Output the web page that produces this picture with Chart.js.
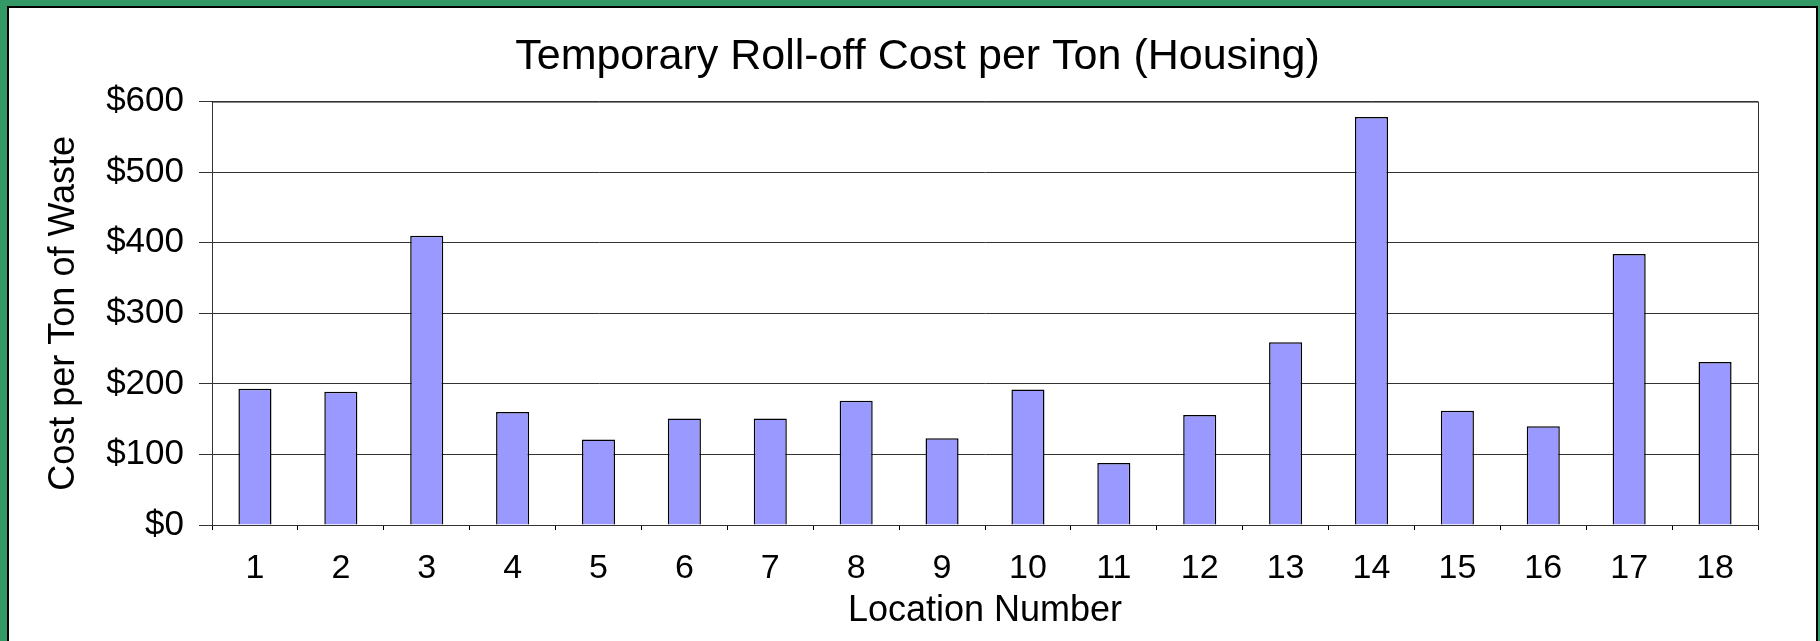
<!DOCTYPE html>
<html>
<head>
<meta charset="utf-8">
<title>Temporary Roll-off Cost per Ton (Housing)</title>
<script src="https://cdn.jsdelivr.net/npm/chart.js@4.4.1/dist/chart.umd.min.js"></script>
<style>
  html, body { margin: 0; padding: 0; }
  body { width: 1820px; height: 641px; background: #339966; overflow: hidden; position: relative; }
  .frame {
    position: absolute; left: 7px; top: 6px;
    width: 1807px; height: 660px;
    border: 2px solid #000; background: #fff;
  }
  .frame canvas { position: absolute; left: 0; top: 0; }
</style>
</head>
<body>
<div class="frame">
  <canvas id="costChart" width="1807" height="633"></canvas>
</div>
<script>
const locations = ['1', '2', '3', '4', '5', '6', '7', '8', '9', '10', '11', '12', '13', '14', '15', '16', '17', '18'];
const costPerTon = [193, 189, 410, 160, 121, 151, 151, 176, 123, 192, 88, 156, 259, 578, 162, 140, 384, 231];
const yTicks = [0, 100, 200, 300, 400, 500, 600];

const FONT = "'Liberation Sans', Arial, Helvetica, sans-serif";

// outline round the plot area (top and right edges)
const plotFrame = {
  id: 'plotFrame',
  afterDraw(chart) {
    const { ctx, chartArea } = chart;
    ctx.save();
    ctx.strokeStyle = '#333';
    ctx.lineWidth = 1;
    ctx.strokeRect(chartArea.left + 0.5, chartArea.top + 0.5, chartArea.right - chartArea.left, chartArea.bottom - chartArea.top);
    ctx.restore();
  }
};

document.addEventListener('DOMContentLoaded', () => {
  Chart.defaults.font.family = FONT;
  Chart.defaults.color = '#000';

  const ctx = document.getElementById('costChart').getContext('2d');

  new Chart(ctx, {
    type: 'bar',
    data: {
      labels: locations,
      datasets: [{
        label: 'Cost per Ton',
        data: costPerTon,
        backgroundColor: '#9999FF',
        borderColor: '#000',
        borderWidth: 1.5,
        categoryPercentage: 1,
        barPercentage: 0.385
      }]
    },
    plugins: [plotFrame],
    options: {
      responsive: false,
      animation: false,
      layout: { padding: { left: 10, right: 0, top: 0, bottom: 0 } },
      plugins: {
        legend: { display: false },
        tooltip: { enabled: false },
        title: {
          display: true,
          text: 'Temporary Roll-off Cost per Ton (Housing)',
          color: '#000',
          font: { size: 43, weight: 'normal' },
          padding: { top: 23, bottom: 19 }
        }
      },
      scales: {
        x: {
          afterFit: (scale) => { scale.height = 116; },
          grid: {
            offset: true,
            drawOnChartArea: false,
            tickLength: 5,
            color: '#000'
          },
          border: { color: '#000', width: 1 },
          ticks: { color: '#000', font: { size: 34 }, padding: 18, maxRotation: 0 },
          title: {
            display: true,
            text: 'Location Number',
            color: '#000',
            font: { size: 36 },
            padding: { top: 0, bottom: 8 }
          }
        },
        y: {
          min: 0,
          max: 600,
          afterFit: (scale) => { scale.width = 193; },
          afterBuildTicks: (scale) => { scale.ticks = yTicks.map((v) => ({ value: v })); },
          grid: { color: '#333', tickLength: 13 },
          border: { color: '#000', width: 1 },
          ticks: {
            color: '#000',
            font: { size: 35 },
            padding: 15,
            callback: (value) => '$' + value
          },
          title: {
            display: true,
            text: 'Cost per Ton of Waste',
            color: '#000',
            font: { size: 36 },
            padding: { top: 23, bottom: 0 }
          }
        },
        // empty right-hand margin so the title centres over the whole frame
        yRight: {
          position: 'right',
          display: true,
          afterFit: (scale) => { scale.width = 58; },
          grid: { display: false },
          border: { display: false },
          ticks: { display: false }
        }
      }
    }
  });
});
</script>
</body>
</html>
